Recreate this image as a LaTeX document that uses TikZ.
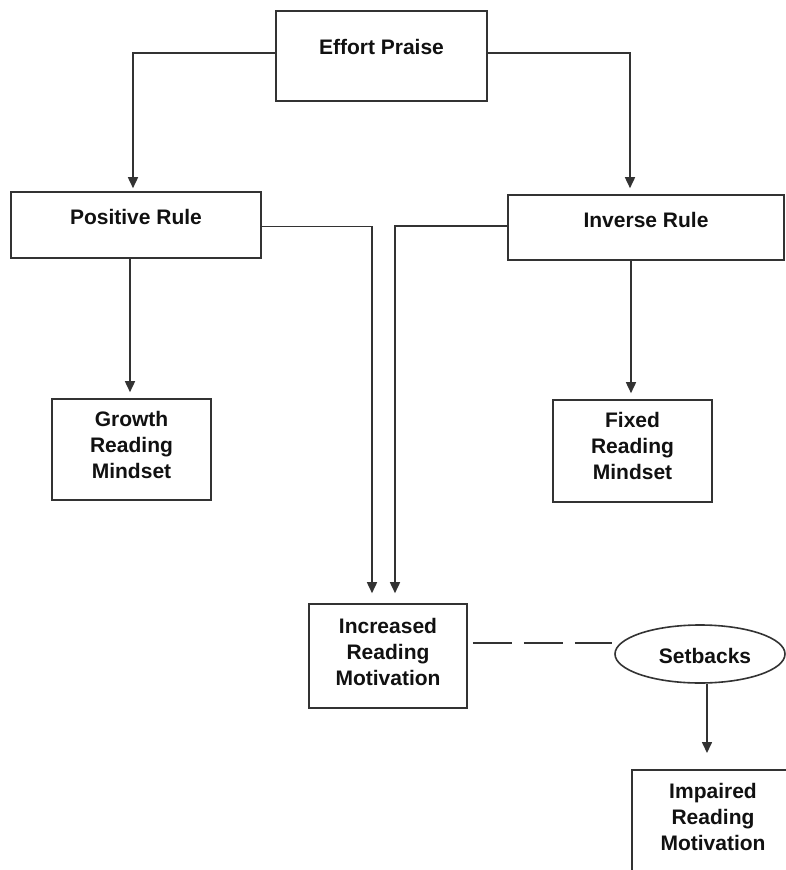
\documentclass[tikz,border=0pt]{standalone}
\usepackage{fontspec}
\setmainfont{Liberation Sans}
\usetikzlibrary{arrows.meta,shapes.geometric}
\definecolor{ln}{HTML}{333333}
\definecolor{tx}{HTML}{111111}
\begin{document}
\begin{tikzpicture}[x=1pt,y=-1pt,
  box/.style={draw=ln,line width=1.6pt,rectangle,inner sep=0pt},
  lbl/.style={text=tx,font=\fontsize{21}{26}\selectfont\bfseries,align=center,inner sep=0pt},
  conn/.style={draw=ln,line width=1.6pt},
  arr/.style={conn,-{Triangle[length=11pt,width=10pt]}},
  dashline/.style={conn,dash pattern=on 39pt off 12pt}]
\useasboundingbox (0,0) rectangle (786,870);
\clip (0,0) rectangle (786,870);
\fill[white] (0,0) rectangle (786,870);
% boxes
\node[box,minimum width=211pt,minimum height=90pt] (ep) at (381.5,56) {};
\node[box,minimum width=250pt,minimum height=66pt] (pr) at (136,225) {};
\node[box,minimum width=276pt,minimum height=65pt] (ir) at (646,227.5) {};
\node[box,minimum width=159pt,minimum height=101pt] (gr) at (131.5,449.5) {};
\node[box,minimum width=159pt,minimum height=102pt] (fx) at (632.5,451) {};
\node[box,minimum width=158pt,minimum height=104pt] (inc) at (388,656) {};
\node[box,minimum width=170pt,minimum height=110pt] (imp) at (717,825) {};
\node[draw=ln,line width=1.6pt,ellipse,minimum width=170pt,minimum height=58pt,inner sep=0pt] (sb) at (700,654) {};
% labels
\node[lbl] (epT) at ([yshift=9pt]ep.center) {Effort Praise};
\node[lbl] (prT) at ([yshift=8pt]pr.center) {Positive Rule};
\node[lbl] (irT) at ([yshift=8pt]ir.center) {Inverse Rule};
\node[lbl] (grT) at ([yshift=5pt]gr.center) {Growth\\Reading\\Mindset};
\node[lbl] (fxT) at ([yshift=5pt]fx.center) {Fixed\\Reading\\Mindset};
\node[lbl] (incT) at ([yshift=4pt]inc.center) {Increased\\Reading\\Motivation};
\node[lbl] (sbT) at (705,656) {Setbacks};
\node[lbl] (impT) at (713,817) {Impaired\\Reading\\Motivation};
% connectors
\draw[arr,shorten >=3pt] ([yshift=3pt]ep.west) -| ([xshift=-3pt]pr.north);
\draw[arr,shorten >=6pt] ([yshift=3pt]ep.east) -| ([xshift=-16pt]ir.north);
\draw[arr,shorten >=10pt] ([yshift=-1.5pt]pr.east) -| ([xshift=-16pt]inc.north);
\draw[arr,shorten >=10pt] ([yshift=1.5pt]ir.west) -| ([xshift=7pt]inc.north);
\draw[arr,shorten >=6pt] ([xshift=-1.5pt]gr.north |- pr.south) -- ([xshift=-1.5pt]gr.north);
\draw[arr,shorten >=6pt] ([xshift=-1.5pt]fx.north |- ir.south) -- ([xshift=-1.5pt]fx.north);
\coordinate (sbL) at (612,643);
\draw[dashline] ([xshift=5pt,yshift=13pt]inc.east) -- (sbL);
\coordinate (sbEnd) at (707,753);
\draw[arr] ([xshift=7pt]sb.south) -- (sbEnd);
\end{tikzpicture}
\end{document}
